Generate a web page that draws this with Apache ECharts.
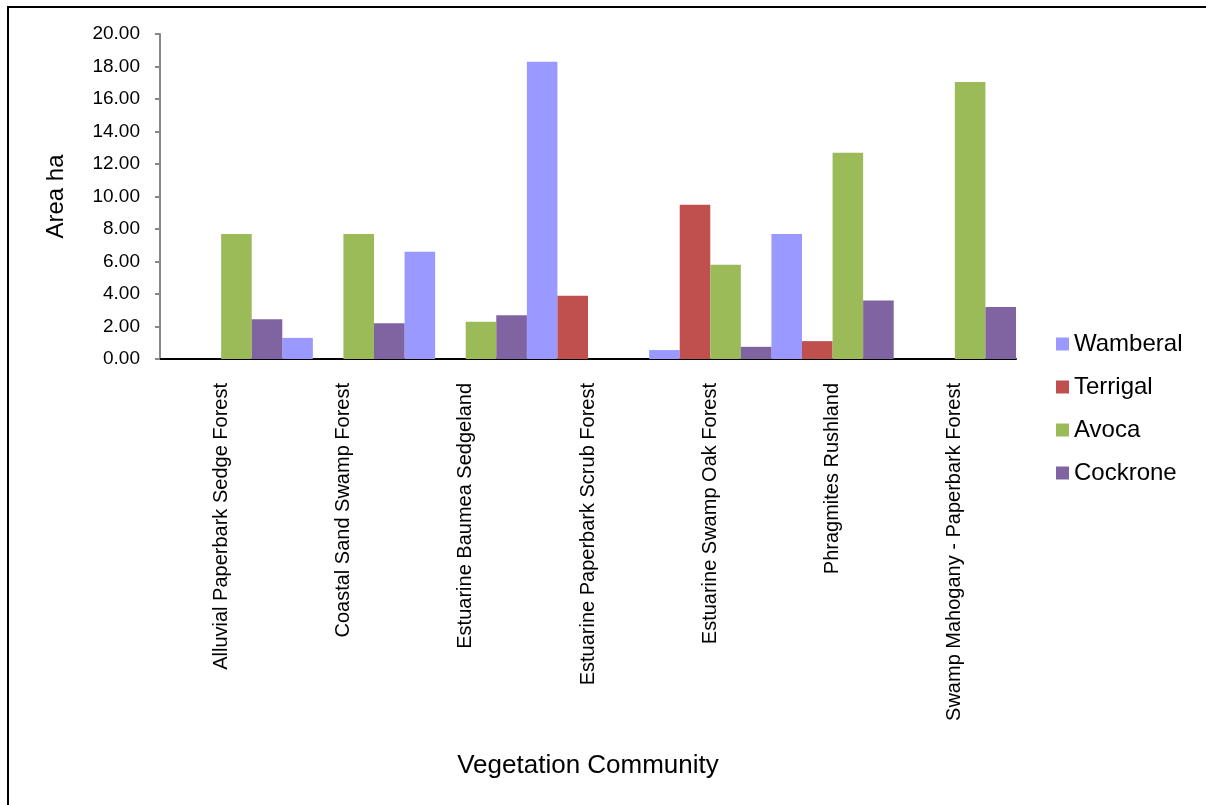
<!DOCTYPE html>
<html>
<head>
<meta charset="utf-8">
<title>Vegetation Community Area</title>
<script src="https://cdn.jsdelivr.net/npm/echarts@6/dist/echarts.min.js"></script>
<style>
  html, body { margin: 0; padding: 0; background: #fff; }
  #chart { width: 1206px; height: 805px; }
</style>
</head>
<body>
<div id="chart"></div>
<script>
// categories along the x axis
const communities = [
  'Alluvial Paperbark Sedge Forest',
  'Coastal Sand Swamp Forest',
  'Estuarine Baumea Sedgeland',
  'Estuarine Paperbark Scrub Forest',
  'Estuarine Swamp Oak Forest',
  'Phragmites Rushland',
  'Swamp Mahogany - Paperbark Forest'
]

// area (ha) per site
const wamberal = [0, 1.3, 6.6, 18.3, 0.55, 7.7, 0]
const terrigal = [0, 0, 0, 3.9, 9.5, 1.1, 0]
const avoca = [7.7, 7.7, 2.3, 0, 5.8, 12.7, 17.05]
const cockrone = [2.45, 2.2, 2.7, 0, 0.75, 3.6, 3.2]

const seriesNames = ['Wamberal', 'Terrigal', 'Avoca', 'Cockrone']
const seriesColors = ['#9999ff', '#c0504d', '#9bbb59', '#8064a2']

const font = 'Liberation Sans, Arial, sans-serif'

const chart = echarts.init(document.getElementById('chart'))

chart.setOption({
  animation: false,
  backgroundColor: '#fff',
  textStyle: { fontFamily: font },
  grid: {
    left: 160,
    right: 190,
    top: 34,
    bottom: 446
  },
  legend: {
    orient: 'vertical',
    left: 1056,
    top: 332,
    padding: 0,
    itemWidth: 13,
    itemHeight: 13,
    itemGap: 19,
    icon: 'rect',
    data: seriesNames,
    textStyle: { fontSize: 24, color: '#000', fontFamily: font }
  },
  graphic: [
    {
      type: 'polyline',
      shape: { points: [[8, 805], [8, 7], [1206, 7]] },
      style: { stroke: '#000', lineWidth: 2, fill: null },
      silent: true
    }
  ],
  xAxis: {
    type: 'category',
    data: communities,
    name: 'Vegetation Community',
    nameLocation: 'middle',
    nameGap: 394,
    nameTextStyle: { fontSize: 26, color: '#000', fontFamily: font },
    axisLine: { lineStyle: { color: '#000', width: 2 } },
    axisTick: { show: false },
    axisLabel: {
      rotate: 90,
      margin: 24,
      fontSize: 20,
      color: '#000',
      interval: 0
    }
  },
  yAxis: {
    type: 'value',
    min: 0,
    max: 20,
    interval: 2,
    name: 'Area ha',
    nameLocation: 'middle',
    nameGap: 92,
    nameRotate: 90,
    nameTextStyle: { fontSize: 24, color: '#000', fontFamily: font },
    splitLine: { show: false },
    axisLine: { show: true, lineStyle: { color: '#888', width: 2 } },
    axisTick: { show: true, length: 5, lineStyle: { color: '#888', width: 2 } },
    axisLabel: {
      margin: 20,
      fontSize: 19,
      color: '#000',
      formatter: v => v.toFixed(2)
    }
  },
  series: [wamberal, terrigal, avoca, cockrone].map((d, i) => ({
    name: seriesNames[i],
    type: 'bar',
    data: d,
    barGap: 0,
    barCategoryGap: 0,
    itemStyle: { color: seriesColors[i] }
  }))
})
</script>
</body>
</html>
